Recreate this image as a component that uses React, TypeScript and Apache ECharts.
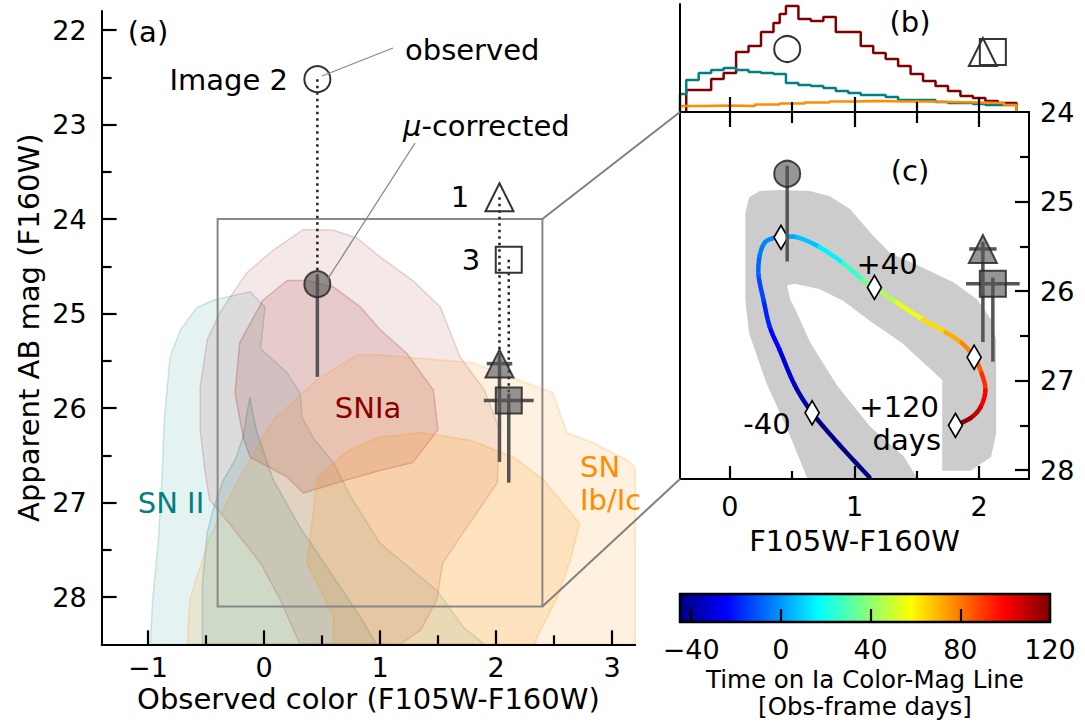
import React, { useEffect, useRef } from "react";
import * as echarts from "echarts";

const FONT = '"DejaVu Sans", "Liberation Sans", sans-serif';

// ---------------- tick values ----------------
const aMajorX = [-1, 0, 1, 2, 3];
const aMinorX = [-0.5, 0.5, 1.5, 2.5];
const aMajorY = [22, 23, 24, 25, 26, 27, 28];
const aMinorY = [22.5, 23.5, 24.5, 25.5, 26.5, 27.5];
const cMajorX = [0, 1, 2];
const cMinorX = [0.5, 1.5];
const cMajorYTicks = [25, 26, 27, 28];
const cMajorYLabels = [24, 25, 26, 27, 28];
const cMinorY = [24.5, 25.5, 26.5, 27.5];
const cbarTicks = [-40, 0, 40, 80, 120];

// ---------------- lensed images ----------------
const imageSymbols = ["circle", "triangle", "rect"];
const imageSizes = [26, 28, 26];
const imageColor = [0.46, 2.03, 2.11];
const observedMag = [22.52, 23.77, 24.43];
const correctedMag = [24.69, 25.53, 25.92];
const errTopMag = [24.6, 25.45, 25.85];
const errBottomMag = [25.67, 26.57, 26.79];
const colorErr = [0, 0.11, 0.215];
const histMarkerHeight = [63, 60, 60];

// ---------------- contours (color, mag) ----------------
const snIIOuter = [
  [-0.98, 28.5], [-0.96, 28.03], [-0.91, 27.4], [-0.88, 26.76], [-0.86, 26.13],
  [-0.81, 25.46], [-0.72, 25.17], [-0.58, 24.94], [-0.44, 24.86], [-0.12, 24.77],
  [0.01, 24.93], [-0.03, 25.37], [0.2, 25.63], [0.31, 25.84], [0.33, 26.1],
  [0.42, 26.31], [0.6, 26.58], [0.74, 26.92], [1.0, 27.43], [1.49, 27.93],
  [1.72, 28.32], [1.9, 28.5],
];
const snIIInner = [
  [-0.53, 28.5], [-0.53, 27.85], [-0.49, 27.32], [-0.44, 27.08], [-0.35, 26.76],
  [-0.25, 26.55], [-0.18, 26.31], [-0.15, 26.07], [-0.12, 25.88], [-0.1, 26.04],
  [-0.06, 26.26], [0.08, 26.76], [0.31, 27.26], [0.6, 27.79], [0.83, 28.21],
  [0.97, 28.5],
];
const snIaOuter = [
  [-0.55, 25.78], [-0.55, 26.23], [-0.51, 26.66], [-0.47, 26.97], [-0.32, 27.19],
  [-0.03, 27.64], [0.14, 28.03], [0.31, 28.5], [1.17, 28.5], [1.35, 28.35],
  [1.49, 28.03], [1.54, 27.64], [1.75, 27.26], [2.01, 26.79], [2.03, 26.23],
  [1.9, 25.81], [1.69, 25.46], [1.52, 24.93], [1.28, 24.65], [1.0, 24.4],
  [0.8, 24.2], [0.6, 24.12], [0.34, 24.11], [0.08, 24.33], [-0.15, 24.57],
  [-0.38, 24.99], [-0.49, 25.28],
];
const snIaInner = [
  [-0.01, 24.86], [0.2, 24.65], [0.37, 24.65], [0.6, 24.72], [0.83, 24.93],
  [1.0, 25.17], [1.23, 25.42], [1.46, 25.81], [1.5, 26.23], [1.28, 26.58],
  [1.0, 26.66], [0.66, 26.78], [0.34, 26.9], [0.2, 26.73], [-0.12, 26.52],
  [-0.18, 26.31], [-0.25, 25.84], [-0.21, 25.31],
];
const snIbcOuter = [
  [-0.66, 28.5], [-0.64, 28.03], [-0.47, 27.37], [-0.21, 26.73], [0.08, 26.13],
  [0.46, 25.7], [0.8, 25.44], [1.0, 25.44], [1.8, 25.52], [2.49, 25.84],
  [2.61, 26.26], [2.84, 26.37], [3.13, 26.55], [3.2, 26.63], [3.2, 28.5],
];
const snIbcInner = [
  [0.6, 28.5], [0.6, 28.21], [0.37, 27.64], [0.46, 26.73], [0.74, 26.44],
  [1.0, 26.31], [1.35, 26.26], [1.78, 26.34], [2.15, 26.52], [2.41, 26.76],
  [2.72, 27.22], [2.64, 27.61], [2.53, 28.0], [2.35, 28.43], [2.34, 28.5],
];

// zoom box of panel (c)
const zoomBoxColor = [-0.4, 2.4];
const zoomBoxMag = [24, 28.1];

// ---------------- panel (b) histograms ----------------
const iaEdges = [-0.35, -0.15, -0.05, 0.05, 0.15, 0.25, 0.35, 0.4, 0.45, 0.55, 0.65, 0.75, 0.85, 1.05, 1.15, 1.25, 1.35, 1.45, 1.55, 1.65, 1.75, 1.85, 1.95, 2.05, 2.15, 2.3];
const iaCounts = [22, 33, 39, 60, 66, 80, 89, 98, 106, 93, 91, 95, 80, 66, 59, 53, 46, 38, 31, 26, 21, 16, 14, 11, 9];
const iiEdges = [-0.4, -0.35, -0.25, -0.15, -0.05, 0.05, 0.15, 0.25, 0.35, 0.45, 0.55, 0.65, 0.75, 0.85, 0.95, 1.05, 1.25, 1.35, 1.65, 1.75, 1.95, 2.05, 2.3];
const iiCounts = [18, 32, 39, 42, 44, 42, 40, 39, 38, 29, 27, 26, 24, 21, 19, 17, 15, 12, 10, 9, 8, 7];
const ibcEdges = [-0.4, -0.2, 0.0, 0.2, 0.4, 0.6, 0.8, 1.0, 1.2, 1.4, 1.6, 1.8, 2.0, 2.2, 2.3];
const ibcCounts = [6, 6.5, 6, 7.5, 8.5, 9.5, 10.5, 11, 10.5, 10.5, 10, 9.5, 9, 7];

// ---------------- panel (c) Ia colour-magnitude line ----------------
// [colour, mag, time (obs-frame days)]
const iaLine = [
  [1.12, 28.08, -52], [0.88, 27.72, -46], [0.66, 27.36, -40], [0.52, 27.05, -35],
  [0.4, 26.66, -28], [0.32, 26.4, -22], [0.27, 26.1, -16], [0.23, 25.82, -10],
  [0.24, 25.6, -6], [0.28, 25.46, -3], [0.345, 25.41, -1.5], [0.41, 25.4, 0],
  [0.54, 25.4, 4], [0.72, 25.51, 10], [0.91, 25.69, 20], [1.07, 25.88, 32],
  [1.16, 25.96, 40], [1.34, 26.13, 50], [1.55, 26.32, 60], [1.73, 26.46, 68],
  [1.86, 26.58, 75], [1.96, 26.74, 80], [2.02, 26.92, 88], [2.05, 27.11, 96],
  [2.01, 27.3, 105], [1.93, 27.42, 112], [1.81, 27.5, 120],
];
const diamondPts = [
  [0.66, 27.36], [0.41, 25.4], [1.16, 25.96], [1.96, 26.74], [1.81, 27.5],
];
const iaBand = [
  [0.63, 28.1], [0.46, 27.52], [0.3, 27.03], [0.16, 26.47], [0.13, 26.1],
  [0.13, 25.13], [0.16, 24.96], [0.24, 24.89], [0.4, 24.88], [0.64, 24.89],
  [0.8, 24.95], [0.96, 25.09], [1.12, 25.35], [1.28, 25.58], [1.52, 25.73],
  [1.79, 25.91], [1.98, 26.1], [2.09, 26.32], [2.13, 26.55], [2.13, 27.59],
  [2.09, 27.85], [1.93, 28.0], [1.71, 28.0], [1.71, 26.99], [1.39, 26.58],
  [1.12, 26.32], [0.91, 26.1], [0.72, 25.97], [0.52, 25.91], [0.45, 25.93],
  [0.48, 26.1], [0.52, 26.21], [0.64, 26.58], [0.86, 27.07], [1.12, 27.52],
  [1.39, 27.85], [1.5, 28.1],
];
const cbarMin = -45;
const cbarMax = 120;

// ---------------- helpers ----------------
function jet(x: number) {
  const f = (v: number) => Math.max(0, Math.min(1, v));
  const r = f(1.5 - Math.abs(4 * x - 3));
  const g = f(1.5 - Math.abs(4 * x - 2));
  const b = f(1.5 - Math.abs(4 * x - 1));
  return `rgb(${Math.round(r * 255)},${Math.round(g * 255)},${Math.round(b * 255)})`;
}
const timeColor = (t: number) => jet(Math.max(0, Math.min(1, (t - cbarMin) / (cbarMax - cbarMin))));
const fmtMinus = (v: number) => (v < 0 ? "\u2212" + Math.abs(v) : String(v));

function histData(edges: number[], counts: number[]) {
  const d: number[][] = [[edges[0], 0]];
  counts.forEach((c, i) => d.push([edges[i], c]));
  d.push([edges[edges.length - 1], counts[counts.length - 1]]);
  d.push([edges[edges.length - 1], 0]);
  return d;
}

function polygonSeries(points: number[][], xi: number, yi: number, fill: string, stroke: string, z: number) {
  return {
    type: "custom",
    xAxisIndex: xi,
    yAxisIndex: yi,
    z,
    silent: true,
    data: [points[0]],
    renderItem: (_p: any, api: any) => ({
      type: "polygon",
      shape: { points: points.map((p) => api.coord(p)) },
      style: { fill, stroke, lineWidth: 1.5 },
    }),
  };
}

function errorBarSeries(xi: number, yi: number, z: number) {
  return {
    type: "custom",
    xAxisIndex: xi,
    yAxisIndex: yi,
    z,
    silent: true,
    data: imageColor.map((c, i) => [c, errTopMag[i], errBottomMag[i], colorErr[i], correctedMag[i]]),
    renderItem: (_p: any, api: any) => {
      const c = api.value(0);
      const top = api.coord([c, api.value(1)]);
      const bot = api.coord([c, api.value(2)]);
      const e = api.value(3);
      const m = api.value(4);
      const children: any[] = [
        { type: "line", shape: { x1: top[0], y1: top[1], x2: bot[0], y2: bot[1] }, style: { stroke: "#555", lineWidth: 3.5 } },
      ];
      if (e > 0) {
        const l = api.coord([c - e, m]);
        const r = api.coord([c + e, m]);
        children.push({ type: "line", shape: { x1: l[0], y1: l[1], x2: r[0], y2: r[1] }, style: { stroke: "#555", lineWidth: 3.5 } });
      }
      return { type: "group", children };
    },
  };
}

function correctedScatter(xi: number, yi: number, z: number) {
  return {
    type: "scatter",
    xAxisIndex: xi,
    yAxisIndex: yi,
    z,
    silent: true,
    data: imageColor.map((c, i) => ({ value: [c, correctedMag[i]], symbol: imageSymbols[i], symbolSize: imageSizes[i] })),
    itemStyle: { color: "rgba(85,85,85,0.62)", borderColor: "rgba(40,40,40,0.85)", borderWidth: 2, opacity: 1 },
  };
}

const tl = () => ({ color: "#000", width: 2.2 });
const labelStyle = () => ({ fontSize: 27, fontFamily: FONT, color: "#000" });
const nameStyle = () => ({ fontSize: 29, fontFamily: FONT, color: "#000" });
const noLine = () => ({ show: false, onZero: false });
const spine = () => ({ show: true, onZero: false, lineStyle: { color: "#000", width: 2 } });

function App() {
  const ref = useRef<HTMLDivElement>(null);
  useEffect(() => {
    if (!ref.current) return;
    const chart = echarts.init(ref.current, undefined, { renderer: "svg" });

    const xAxis: any[] = [
      // 0: panel (a) major
      {
        gridIndex: 0, type: "value", min: -1.4, max: 3.2, position: "bottom", z: 10,
        axisLine: spine(),
        axisTick: { show: true, inside: true, length: 14, lineStyle: tl(), customValues: aMajorX },
        axisLabel: { show: true, customValues: aMajorX, formatter: fmtMinus, margin: 10, ...labelStyle() },
        splitLine: { show: false },
        name: "Observed color (F105W-F160W)", nameLocation: "middle", nameGap: 40, nameMoveOverlap: false,
        nameTextStyle: nameStyle(),
      },
      // 1: panel (a) minor
      {
        gridIndex: 0, type: "value", min: -1.4, max: 3.2, position: "bottom", z: 10,
        axisLine: noLine(),
        axisTick: { show: true, inside: true, length: 9, lineStyle: tl(), customValues: aMinorX },
        axisLabel: { show: false }, splitLine: { show: false },
      },
      // 2: panel (b) major
      {
        gridIndex: 1, type: "value", min: -0.4, max: 2.4, position: "bottom", z: 10,
        axisLine: spine(),
        axisTick: { show: true, inside: true, length: 15, lineStyle: tl(), customValues: cMajorX },
        axisLabel: { show: false }, splitLine: { show: false },
      },
      // 3: panel (b) minor
      {
        gridIndex: 1, type: "value", min: -0.4, max: 2.4, position: "bottom", z: 10,
        axisLine: noLine(),
        axisTick: { show: true, inside: true, length: 10, lineStyle: tl(), customValues: cMinorX },
        axisLabel: { show: false }, splitLine: { show: false },
      },
      // 4: panel (c) bottom major
      {
        gridIndex: 2, type: "value", min: -0.4, max: 2.4, position: "bottom", z: 10,
        axisLine: spine(),
        axisTick: { show: true, inside: true, length: 13, lineStyle: tl(), customValues: cMajorX },
        axisLabel: { show: true, customValues: cMajorX, formatter: fmtMinus, margin: 14, ...labelStyle() },
        splitLine: { show: false },
        name: "F105W-F160W", nameLocation: "middle", nameGap: 47, nameMoveOverlap: false,
        nameTextStyle: nameStyle(),
      },
      // 5: panel (c) bottom minor
      {
        gridIndex: 2, type: "value", min: -0.4, max: 2.4, position: "bottom", z: 10,
        axisLine: noLine(),
        axisTick: { show: true, inside: true, length: 8, lineStyle: tl(), customValues: cMinorX },
        axisLabel: { show: false }, splitLine: { show: false },
      },
      // 6: panel (c) top major
      {
        gridIndex: 2, type: "value", min: -0.4, max: 2.4, position: "top", z: 10,
        axisLine: spine(),
        axisTick: { show: true, inside: true, length: 15, lineStyle: tl(), customValues: cMajorX },
        axisLabel: { show: false }, splitLine: { show: false },
      },
      // 7: panel (c) top minor
      {
        gridIndex: 2, type: "value", min: -0.4, max: 2.4, position: "top", z: 10,
        axisLine: noLine(),
        axisTick: { show: true, inside: true, length: 11, lineStyle: tl(), customValues: cMinorX },
        axisLabel: { show: false }, splitLine: { show: false },
      },
      // 8: colour bar
      {
        gridIndex: 3, type: "value", min: cbarMin, max: cbarMax, position: "bottom", z: 10,
        axisLine: noLine(),
        axisTick: { show: true, inside: true, length: 13, lineStyle: tl(), customValues: cbarTicks },
        axisLabel: { show: true, customValues: cbarTicks, formatter: fmtMinus, margin: 14, ...labelStyle() },
        splitLine: { show: false },
        name: "Time on Ia Color-Mag Line\n[Obs-frame days]", nameLocation: "middle", nameGap: 44, nameMoveOverlap: false,
        nameTextStyle: { fontSize: 24.5, fontFamily: FONT, color: "#000", lineHeight: 27 },
      },
    ];

    const yAxis: any[] = [
      // 0: panel (a) major
      {
        gridIndex: 0, type: "value", inverse: true, min: 21.8, max: 28.5, position: "left", z: 10,
        axisLine: spine(),
        axisTick: { show: true, inside: true, length: 15, lineStyle: tl(), customValues: aMajorY },
        axisLabel: { show: true, customValues: aMajorY, margin: 15, ...labelStyle() },
        splitLine: { show: false },
        name: "Apparent AB mag (F160W)", nameLocation: "middle", nameGap: 58, nameRotate: 90, nameMoveOverlap: false,
        nameTextStyle: nameStyle(),
      },
      // 1: panel (a) minor
      {
        gridIndex: 0, type: "value", inverse: true, min: 21.8, max: 28.5, position: "left", z: 10,
        axisLine: noLine(),
        axisTick: { show: true, inside: true, length: 10, lineStyle: tl(), customValues: aMinorY },
        axisLabel: { show: false }, splitLine: { show: false },
      },
      // 2: panel (b)
      {
        gridIndex: 1, type: "value", min: 0, max: 108, position: "left", z: 10,
        axisLine: spine(),
        axisTick: { show: false }, axisLabel: { show: false }, splitLine: { show: false },
      },
      // 3: panel (c) right major
      {
        gridIndex: 2, type: "value", inverse: true, min: 24, max: 28.1, position: "right", z: 10,
        axisLine: spine(),
        axisTick: { show: true, inside: true, length: 14, lineStyle: tl(), customValues: cMajorYTicks },
        axisLabel: { show: true, customValues: cMajorYLabels, margin: 11, ...labelStyle() },
        splitLine: { show: false },
      },
      // 4: panel (c) right minor
      {
        gridIndex: 2, type: "value", inverse: true, min: 24, max: 28.1, position: "right", z: 10,
        axisLine: noLine(),
        axisTick: { show: true, inside: true, length: 9, lineStyle: tl(), customValues: cMinorY },
        axisLabel: { show: false }, splitLine: { show: false },
      },
      // 5: panel (c) left spine
      {
        gridIndex: 2, type: "value", inverse: true, min: 24, max: 28.1, position: "left", z: 10,
        axisLine: spine(),
        axisTick: { show: false }, axisLabel: { show: false }, splitLine: { show: false },
      },
      // 6: colour bar
      {
        gridIndex: 3, type: "value", min: 0, max: 1, show: false,
        axisLine: noLine(),
      },
    ];

    const series: any[] = [
      // ---- panel (a) contours ----
      polygonSeries(snIIOuter, 0, 0, "rgba(0,128,128,0.10)", "rgba(0,128,128,0.18)", 1),
      polygonSeries(snIIInner, 0, 0, "rgba(0,128,128,0.12)", "rgba(0,128,128,0.22)", 1),
      polygonSeries(snIaOuter, 0, 0, "rgba(139,0,0,0.09)", "rgba(139,0,0,0.16)", 1),
      polygonSeries(snIaInner, 0, 0, "rgba(139,0,0,0.13)", "rgba(139,0,0,0.2)", 1),
      polygonSeries(snIbcOuter, 0, 0, "rgba(255,140,0,0.12)", "rgba(255,140,0,0.2)", 1),
      polygonSeries(snIbcInner, 0, 0, "rgba(255,140,0,0.15)", "rgba(255,140,0,0.22)", 1),
      // zoom box
      {
        type: "custom", xAxisIndex: 0, yAxisIndex: 0, z: 3, silent: true,
        data: [[zoomBoxColor[0], zoomBoxMag[0]]],
        renderItem: (_p: any, api: any) => {
          const pts = [
            [zoomBoxColor[0], zoomBoxMag[0]], [zoomBoxColor[1], zoomBoxMag[0]],
            [zoomBoxColor[1], zoomBoxMag[1]], [zoomBoxColor[0], zoomBoxMag[1]],
          ].map((p) => api.coord(p));
          return { type: "polygon", shape: { points: pts }, style: { fill: "none", stroke: "#888", lineWidth: 2 } };
        },
      },
      // dotted observed -> corrected
      {
        type: "custom", xAxisIndex: 0, yAxisIndex: 0, z: 4, silent: true,
        data: imageColor.map((c, i) => [c, observedMag[i], correctedMag[i]]),
        renderItem: (_p: any, api: any) => {
          const a = api.coord([api.value(0), api.value(1)]);
          const b = api.coord([api.value(0), api.value(2)]);
          return {
            type: "line", shape: { x1: a[0], y1: a[1], x2: b[0], y2: b[1] },
            style: { stroke: "#222", lineWidth: 2.5, lineDash: [2.5, 4] },
          };
        },
      },
      errorBarSeries(0, 0, 5),
      // observed (open) markers
      {
        type: "scatter", xAxisIndex: 0, yAxisIndex: 0, z: 6, silent: true,
        data: imageColor.map((c, i) => ({ value: [c, observedMag[i]], symbol: imageSymbols[i], symbolSize: imageSizes[i] })),
        itemStyle: { color: "rgba(255,255,255,0)", borderColor: "#333", borderWidth: 2, opacity: 1 },
      },
      correctedScatter(0, 0, 6),

      // ---- panel (b) histograms ----
      {
        type: "line", xAxisIndex: 2, yAxisIndex: 2, step: "end", showSymbol: false, silent: true, z: 3,
        data: histData(iaEdges, iaCounts), lineStyle: { color: "#800000", width: 2.5 },
      },
      {
        type: "line", xAxisIndex: 2, yAxisIndex: 2, step: "end", showSymbol: false, silent: true, z: 3,
        data: histData(iiEdges, iiCounts), lineStyle: { color: "#008080", width: 2.5 },
      },
      {
        type: "line", xAxisIndex: 2, yAxisIndex: 2, step: "end", showSymbol: false, silent: true, z: 3,
        data: histData(ibcEdges, ibcCounts), lineStyle: { color: "#ff8c00", width: 2.5 },
      },
      {
        type: "scatter", xAxisIndex: 2, yAxisIndex: 2, z: 6, silent: true,
        data: [2, 0, 1].map((i) => ({ value: [imageColor[i], histMarkerHeight[i]], symbol: imageSymbols[i], symbolSize: imageSizes[i] })),
        itemStyle: { color: "rgba(255,255,255,0)", borderColor: "#333", borderWidth: 2, opacity: 1 },
      },

      // ---- panel (c) ----
      polygonSeries(iaBand, 4, 3, "#cccccc", "#cccccc", 1),
      {
        type: "custom", xAxisIndex: 4, yAxisIndex: 3, z: 3, silent: true,
        data: iaLine.slice(0, iaLine.length - 1),
        renderItem: (params: any, api: any) => {
          const i = params.dataIndex;
          const n = iaLine.length;
          const P = (k: number) => {
            const q = iaLine[Math.max(0, Math.min(n - 1, k))];
            return api.coord([q[0], q[1]]);
          };
          const p0 = P(i - 1), p1 = P(i), p2 = P(i + 1), p3 = P(i + 2);
          const pts: number[][] = [];
          const steps = 8;
          for (let s = 0; s <= steps; s++) {
            const t = s / steps, t2 = t * t, t3 = t2 * t;
            const x = 0.5 * (2 * p1[0] + (-p0[0] + p2[0]) * t + (2 * p0[0] - 5 * p1[0] + 4 * p2[0] - p3[0]) * t2 + (-p0[0] + 3 * p1[0] - 3 * p2[0] + p3[0]) * t3);
            const y = 0.5 * (2 * p1[1] + (-p0[1] + p2[1]) * t + (2 * p0[1] - 5 * p1[1] + 4 * p2[1] - p3[1]) * t2 + (-p0[1] + 3 * p1[1] - 3 * p2[1] + p3[1]) * t3);
            pts.push([x, y]);
          }
          const tm = (iaLine[i][2] + iaLine[i + 1][2]) / 2;
          return {
            type: "polyline", shape: { points: pts },
            style: { stroke: timeColor(tm), lineWidth: 4.5, lineCap: "round", lineJoin: "round", fill: "none" },
          };
        },
      },
      {
        type: "scatter", xAxisIndex: 4, yAxisIndex: 3, z: 4, silent: true,
        data: diamondPts, symbol: "diamond", symbolSize: [14, 24],
        itemStyle: { color: "#ffffff", borderColor: "#000", borderWidth: 1.8, opacity: 1 },
      },
      errorBarSeries(4, 3, 5),
      correctedScatter(4, 3, 6),

      // ---- colour bar ----
      {
        type: "custom", xAxisIndex: 8, yAxisIndex: 6, z: 2, silent: true,
        data: [[cbarMin, 0, cbarMax, 1]],
        renderItem: (_p: any, api: any) => {
          const a = api.coord([api.value(0), api.value(3)]);
          const b = api.coord([api.value(2), api.value(1)]);
          const stops = [];
          for (let k = 0; k <= 40; k++) stops.push({ offset: k / 40, color: jet(k / 40) });
          return {
            type: "rect",
            shape: { x: a[0], y: a[1], width: b[0] - a[0], height: b[1] - a[1] },
            style: { fill: new echarts.graphic.LinearGradient(0, 0, 1, 0, stops), stroke: "#000", lineWidth: 2.5 },
          };
        },
      },
    ];

    const option: any = {
      animation: false,
      backgroundColor: "#fff",
      textStyle: { fontFamily: FONT },
      grid: [
        { left: 101.6, top: 11.1, width: 533.6, height: 633.2, containLabel: false },
        { left: 680, top: 4, width: 349, height: 108, containLabel: false },
        { left: 680, top: 112, width: 349, height: 367, containLabel: false },
        { left: 680, top: 594, width: 370, height: 28, containLabel: false },
      ],
      xAxis, yAxis, series,
    };
    chart.setOption(option);

    const boxTR = chart.convertToPixel({ xAxisIndex: 0, yAxisIndex: 0 }, [zoomBoxColor[1], zoomBoxMag[0]]);
    const boxBR = chart.convertToPixel({ xAxisIndex: 0, yAxisIndex: 0 }, [zoomBoxColor[1], zoomBoxMag[1]]);
    const cTL = chart.convertToPixel({ xAxisIndex: 4, yAxisIndex: 3 }, [zoomBoxColor[0], zoomBoxMag[0]]);
    const cBL = chart.convertToPixel({ xAxisIndex: 4, yAxisIndex: 3 }, [zoomBoxColor[0], zoomBoxMag[1]]);

    const txt = (text: string, x: number, y: number, extra: any = {}) => ({
      type: "text", x, y, z: 50, silent: true,
      style: { text, fontSize: 29, fontFamily: FONT, fill: "#000", align: "center", verticalAlign: "middle", ...extra },
    });
    const ln = (x1: number, y1: number, x2: number, y2: number, stroke: string, lineWidth: number) => ({
      type: "line", z: 40, silent: true, shape: { x1, y1, x2, y2 }, style: { stroke, lineWidth },
    });

    chart.setOption({
      graphic: [
        ln(boxTR[0], boxTR[1], cTL[0], cTL[1], "#808080", 2),
        ln(boxBR[0], boxBR[1], cBL[0], cBL[1], "#808080", 2),
        ln(322, 76, 393, 48, "#888", 1.3),
        ln(322, 288, 415, 143, "#888", 1.3),
        txt("(a)", 148, 32),
        txt("Image 2", 288, 80, { align: "right" }),
        txt("observed", 405, 50, { align: "left" }),
        txt("{i|\u03bc}-corrected", 403, 126, { align: "left", rich: { i: { fontStyle: "italic", fontSize: 29, fontFamily: FONT } } }),
        txt("1", 460, 197),
        txt("3", 471, 260),
        txt("SNIa", 368, 408, { fill: "#8b0000" }),
        txt("SN II", 171, 503, { fill: "#008080" }),
        txt("SN", 580, 467, { fill: "#ff8c00", align: "left" }),
        txt("Ib/Ic", 580, 500, { fill: "#ff8c00", align: "left" }),
        txt("(b)", 910, 22),
        txt("(c)", 910, 171),
        txt("+40", 887, 264),
        txt("-40", 767, 424),
        txt("+120", 939, 407, { align: "right" }),
        txt("days", 941, 440, { align: "right" }),
      ],
    });

    return () => chart.dispose();
  }, []);

  return (
    <div
      ref={ref}
      style={{ position: "fixed", left: 0, top: 0, width: 1085, height: 728, background: "#fff" }}
    />
  );
}

export default App;
